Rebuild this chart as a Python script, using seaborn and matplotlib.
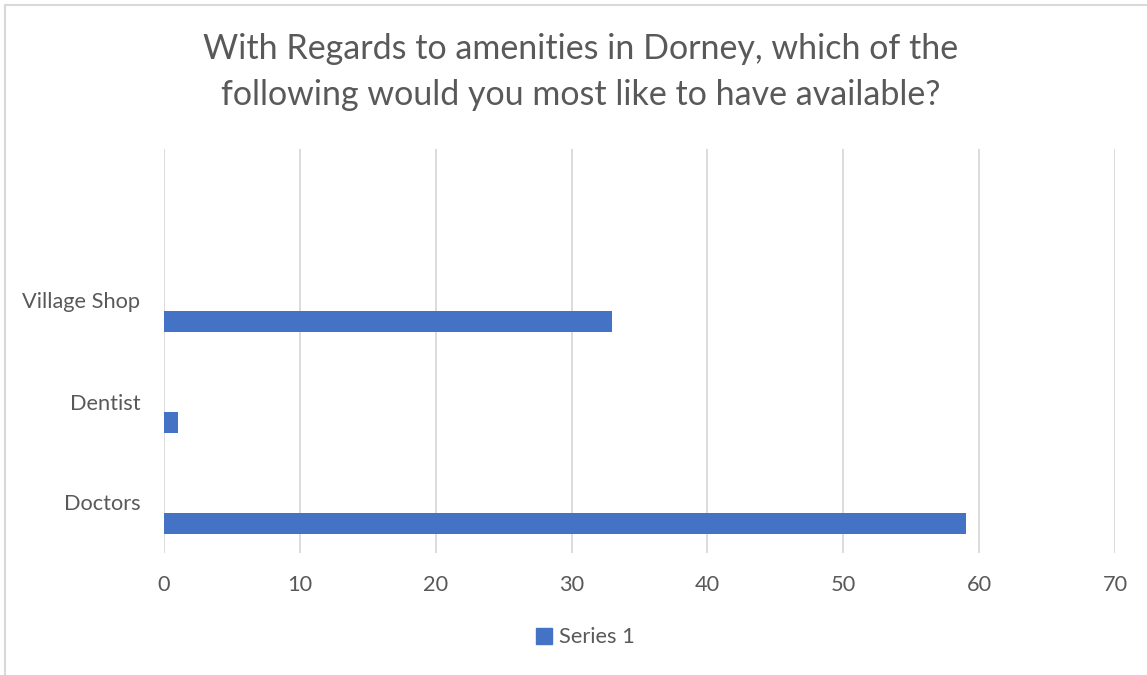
import matplotlib
matplotlib.use("Agg")
import matplotlib.pyplot as plt
import matplotlib.patches as mpatches
import matplotlib.lines as mlines
import seaborn as sns
import pandas as pd

sns.set_theme(style="white")
plt.rcParams["font.family"] = ["Lato", "DejaVu Sans"]

# data
categories = ["Doctors", "Dentist", "Village Shop"]
series_1 = [59, 1, 33]
series_names = ["Series 3", "Series 2", "Series 1"]
axis_order = ["", "Village Shop", "Dentist", "Doctors"]
x_ticks = [0, 10, 20, 30, 40, 50, 60, 70]

title = "With Regards to amenities in Dorney, which of the\nfollowing would you most like to have available?"

df = pd.DataFrame({
    "category": categories,
    "value": series_1,
    "series": "Series 1",
})

text_color = "#595959"
grid_color = "#D9D9D9"
bar_color = "#4472C4"

fig = plt.figure(figsize=(11.47, 6.75), dpi=100)
ax = fig.add_axes([164 / 1147, 122 / 675, 951 / 1147, 404 / 675])

sns.barplot(
    data=df,
    y="category",
    x="value",
    hue="series",
    order=axis_order,
    hue_order=series_names,
    palette={"Series 1": bar_color, "Series 2": "#ED7D31", "Series 3": "#A5A5A5"},
    width=0.63,
    dodge=True,
    errorbar=None,
    saturation=1,
    linewidth=0,
    legend=False,
    ax=ax,
)

ax.set_xlim(0, 70)
ax.set_xticks(x_ticks)
ax.set_xlabel("")
ax.set_ylabel("")
ax.xaxis.grid(True, color=grid_color, linewidth=1.3)
ax.yaxis.grid(False)
ax.set_axisbelow(True)
for spine in ax.spines.values():
    spine.set_visible(False)
ax.tick_params(axis="both", length=0, labelsize=15.7, labelcolor=text_color)
ax.tick_params(axis="x", pad=16)
ax.tick_params(axis="y", pad=17)

fig.text(0.506, 0.893, title, ha="center", va="center",
         fontsize=24.5, color=text_color, linespacing=1.52)

handle = mpatches.Patch(color=bar_color, label="Series 1")
fig.legend(handles=[handle], loc="center", bbox_to_anchor=(0.51, 0.056),
           frameon=False, fontsize=15.7, handlelength=0.75, handleheight=0.75,
           handletextpad=0.3, labelcolor=text_color)

# chart frame: only top and left edges are visible
fig.lines.append(mlines.Line2D([5 / 1147, 1], [1 - 5 / 675, 1 - 5 / 675],
                               transform=fig.transFigure, color=grid_color, linewidth=1.5))
fig.lines.append(mlines.Line2D([5 / 1147, 5 / 1147], [0, 1 - 5 / 675],
                               transform=fig.transFigure, color=grid_color, linewidth=1.5))

fig.savefig("out.png", dpi=100)
